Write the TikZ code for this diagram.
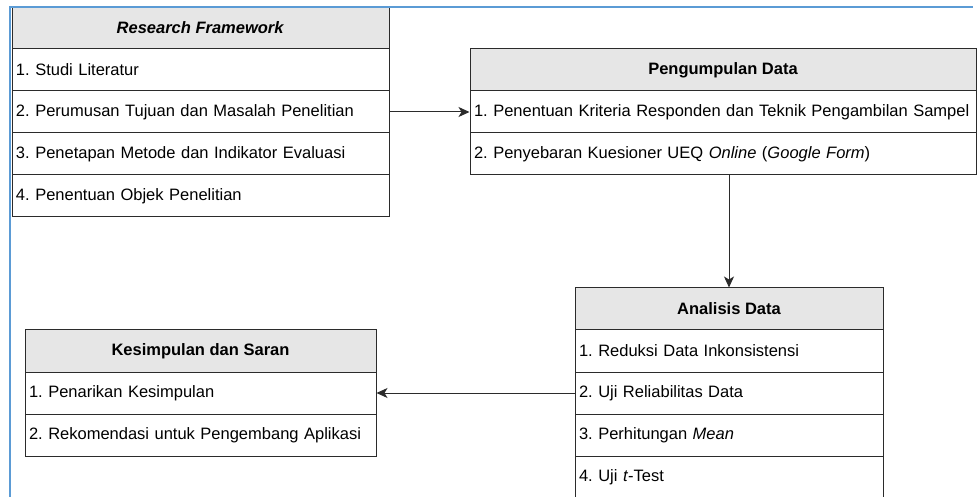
\documentclass[tikz,border=0pt]{standalone}
\usepackage{fontspec}
\setmainfont{Liberation Sans}
\usetikzlibrary{calc}
\usetikzlibrary{positioning}
\usetikzlibrary{arrows.meta}

\definecolor{headfill}{HTML}{E6E6E6}
\definecolor{linegray}{HTML}{2B2B2B}
\definecolor{frameblue}{HTML}{5B9BD5}
\frenchspacing

\begin{document}
\begin{tikzpicture}[x=1pt, y=-1pt,
        head/.style={rectangle, draw=linegray, fill=headfill, line width=1pt, minimum height=42pt, inner sep=0pt, font=\fontsize{16.5}{19}\selectfont\bfseries},
        item/.style={rectangle, draw=linegray, fill=white, line width=1pt, minimum height=42pt, inner xsep=4pt, inner ysep=0pt, align=left, font=\fontsize{16.5}{19}\selectfont},
        conn/.style={draw=linegray, line width=1pt, -{Stealth[length=11pt, width=10pt, inset=3pt]}},
        frame/.style={draw=frameblue, line width=2pt}]
        \useasboundingbox (0,0) rectangle (978,497);

        % Research Framework
        \node[head, minimum width=377] (rf) at (200.5,28) {\textit{Research Framework}};
        \coordinate (A) at (200.5,70);
        \foreach \t[count=\i from 1] in {{1. Studi Literatur}, {2. Perumusan Tujuan dan Masalah Penelitian}, {3. Penetapan Metode dan Indikator Evaluasi}, {4. Penentuan Objek Penelitian}}
        {
            \node[item, text width=369pt] (rf\i) at (A) {\mbox{\t}};
            \coordinate (A) at ($(A) + (0,42)$);
        }

        % Pengumpulan Data
        \node[head, minimum width=506] (pd) at (723,70) {Pengumpulan Data};
        \coordinate (A) at (723,112);
        \foreach \t[count=\i from 1] in {{1. Penentuan Kriteria Responden dan Teknik Pengambilan Sampel}, {2. Penyebaran Kuesioner UEQ \textit{Online} (\textit{Google Form})}}
        {
            \node[item, text width=498pt] (pd\i) at (A) {\mbox{\t}};
            \coordinate (A) at ($(A) + (0,42)$);
        }

        % Analisis Data
        \node[head, minimum width=308] (ad) at (729,309) {Analisis Data};
        \coordinate (A) at (729,351);
        \foreach \t[count=\i from 1] in {{1. Reduksi Data Inkonsistensi}, {2. Uji Reliabilitas Data}, {3. Perhitungan \textit{Mean}}, {4. Uji \textit{t}-Test}}
        {
            \node[item, text width=300pt] (ad\i) at (A) {\mbox{\t}};
            \coordinate (A) at ($(A) + (0,42)$);
        }

        % Kesimpulan dan Saran
        \node[head, minimum width=351] (ks) at (200.5,351) {Kesimpulan dan Saran};
        \coordinate (A) at (200.5,393);
        \foreach \t[count=\i from 1] in {{1. Penarikan Kesimpulan}, {2. Rekomendasi untuk Pengembang Aplikasi}}
        {
            \node[item, text width=343pt] (ks\i) at (A) {\mbox{\t}};
            \coordinate (A) at ($(A) + (0,42)$);
        }

        % connectors
        \draw[conn] (rf2.east) -- (pd1.west);
        \draw[conn] (pd2.south -| ad.north) -- (ad.north);
        \draw[conn] (ad2.west) -- (ks1.east);

        % blue frame
        \draw[frame] (10,497) -- (10,7) -- (973,7);
    \end{tikzpicture}
\end{document}
